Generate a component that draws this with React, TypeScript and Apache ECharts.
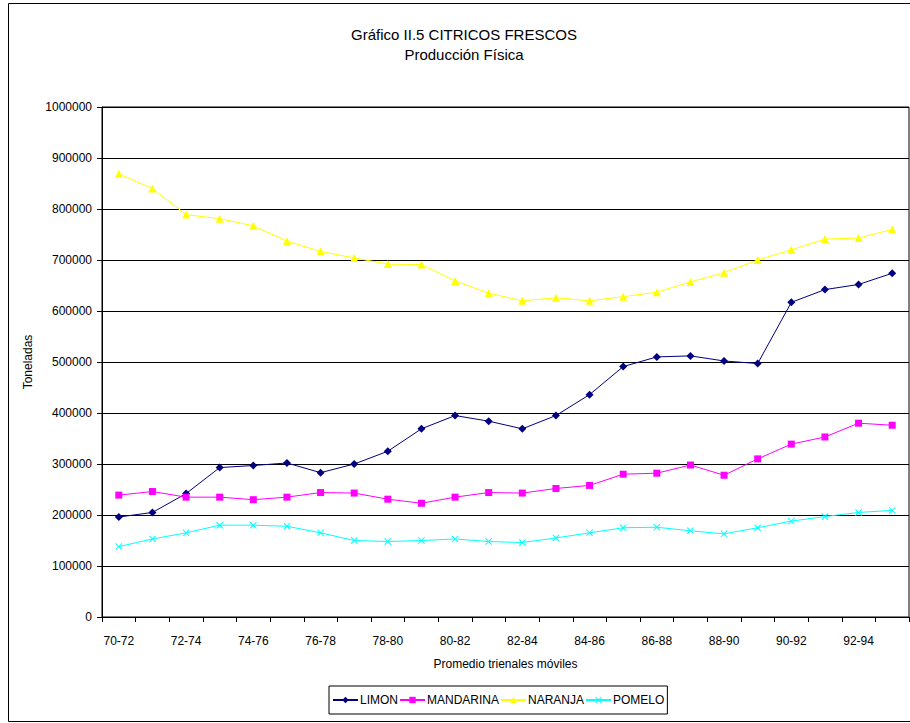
import React, { useEffect, useRef } from "react";
import * as echarts from "echarts";

const categories = [
  "70-72", "71-73", "72-74", "73-75", "74-76", "75-77", "76-78", "77-79",
  "78-80", "79-81", "80-82", "81-83", "82-84", "83-85", "84-86", "85-87",
  "86-88", "87-89", "88-90", "89-91", "90-92", "91-93", "92-94", "93-95",
];

const limon = [
  196000, 205000, 242000, 293000, 297000, 302000, 283000, 300000,
  325000, 369000, 395000, 384000, 369000, 395000, 436000, 491000,
  510000, 512000, 502000, 497000, 617000, 642000, 652000, 674000,
];

const mandarina = [
  239000, 246000, 235000, 235000, 230000, 235000, 244000, 243000,
  231000, 223000, 235000, 244000, 243000, 252000, 258000, 280000,
  282000, 298000, 278000, 310000, 339000, 353000, 380000, 376000,
];

const naranja = [
  869000, 840000, 789000, 781000, 767000, 737000, 717000, 704000,
  692000, 691000, 659000, 635000, 620000, 626000, 620000, 628000,
  637000, 657000, 675000, 700000, 720000, 741000, 743000, 760000,
];

const pomelo = [
  138000, 153000, 165000, 180000, 180000, 178000, 165000, 150000,
  148000, 150000, 153000, 148000, 146000, 155000, 165000, 175000,
  176000, 169000, 163000, 175000, 188000, 197000, 205000, 209000,
];

const FONT = "'Liberation Sans', Arial, sans-serif";
const X_SYMBOL =
  "path://M0,1 L1,0 L5,4 L9,0 L10,1 L6,5 L10,9 L9,10 L5,6 L1,10 L0,9 L4,5 Z";

export default function App() {
  const ref = useRef<HTMLDivElement>(null);

  useEffect(() => {
    if (!ref.current) return;
    const chart = echarts.init(ref.current, null, { renderer: "svg" });

    const mkSeries = (
      name: string,
      data: number[],
      color: string,
      symbol: string,
      size: number
    ) => ({
      name,
      type: "line",
      data,
      symbol,
      symbolSize: size,
      showSymbol: true,
      lineStyle: { color, width: 1 },
      itemStyle: { color, borderWidth: 0 },
      emphasis: { disabled: true },
    });

    chart.setOption({
      animation: false,
      backgroundColor: "#ffffff",
      textStyle: { fontFamily: FONT, color: "#000" },
      title: {
        text: "Gráfico II.5 CITRICOS FRESCOS\nProducción Física",
        left: 464,
        top: 24,
        padding: 0,
        textAlign: "center",
        textStyle: {
          fontFamily: FONT,
          fontSize: 15,
          fontWeight: "normal",
          color: "#000",
          lineHeight: 20,
        },
      },
      graphic: [
        {
          type: "rect",
          shape: { x: 8.5, y: 3.5, width: 910, height: 718 },
          style: { fill: "none", stroke: "#000", lineWidth: 1 },
          silent: true,
        },
      ],
      legend: {
        left: 329,
        top: 686,
        orient: "horizontal",
        itemWidth: 25,
        itemHeight: 8,
        itemGap: 1,
        padding: [8, 3, 8, 3],
        borderColor: "#000",
        borderWidth: 1,
        textStyle: { fontFamily: FONT, fontSize: 12, color: "#000", padding: [0, 0, 0, -3] },
        data: ["LIMON", "MANDARINA", "NARANJA", "POMELO"],
      },
      grid: {
        left: 102,
        right: 1,
        top: 107,
        bottom: 106,
        show: true,
        borderColor: "#000",
        borderWidth: 1,
        backgroundColor: "#fff",
      },
      xAxis: {
        type: "category",
        data: categories,
        boundaryGap: true,
        name: "Promedio trienales móviles",
        nameLocation: "middle",
        nameGap: 41,
        nameTextStyle: { fontFamily: FONT, fontSize: 12, color: "#000" },
        axisLine: { show: true, lineStyle: { color: "#000", width: 1 } },
        axisTick: { show: true, interval: 0, length: 5, lineStyle: { color: "#000" } },
        axisLabel: {
          interval: 1,
          margin: 18,
          fontFamily: FONT,
          fontSize: 12,
          color: "#000",
        },
        splitLine: { show: false },
      },
      yAxis: {
        type: "value",
        min: 0,
        max: 1000000,
        interval: 100000,
        name: "Toneladas",
        nameLocation: "middle",
        nameGap: 61,
        nameRotate: 90,
        nameTextStyle: { fontFamily: FONT, fontSize: 12, color: "#000" },
        axisLine: { show: true, lineStyle: { color: "#000", width: 1 } },
        axisTick: { show: true, length: 5, lineStyle: { color: "#000" } },
        axisLabel: {
          margin: 10,
          fontFamily: FONT,
          fontSize: 12,
          color: "#000",
          formatter: (v: number) => String(v),
        },
        splitLine: { show: true, lineStyle: { color: "#000", width: 1 } },
      },
      series: [
        mkSeries("LIMON", limon, "#000080", "diamond", 8),
        mkSeries("MANDARINA", mandarina, "#FF00FF", "rect", 7),
        mkSeries("NARANJA", naranja, "#FFFF00", "triangle", 8),
        mkSeries("POMELO", pomelo, "#00FFFF", X_SYMBOL, 7),
      ],
    });

    return () => chart.dispose();
  }, []);

  return (
    <div
      ref={ref}
      style={{ position: "fixed", left: 0, top: 0, width: 910, height: 723 }}
    />
  );
}
